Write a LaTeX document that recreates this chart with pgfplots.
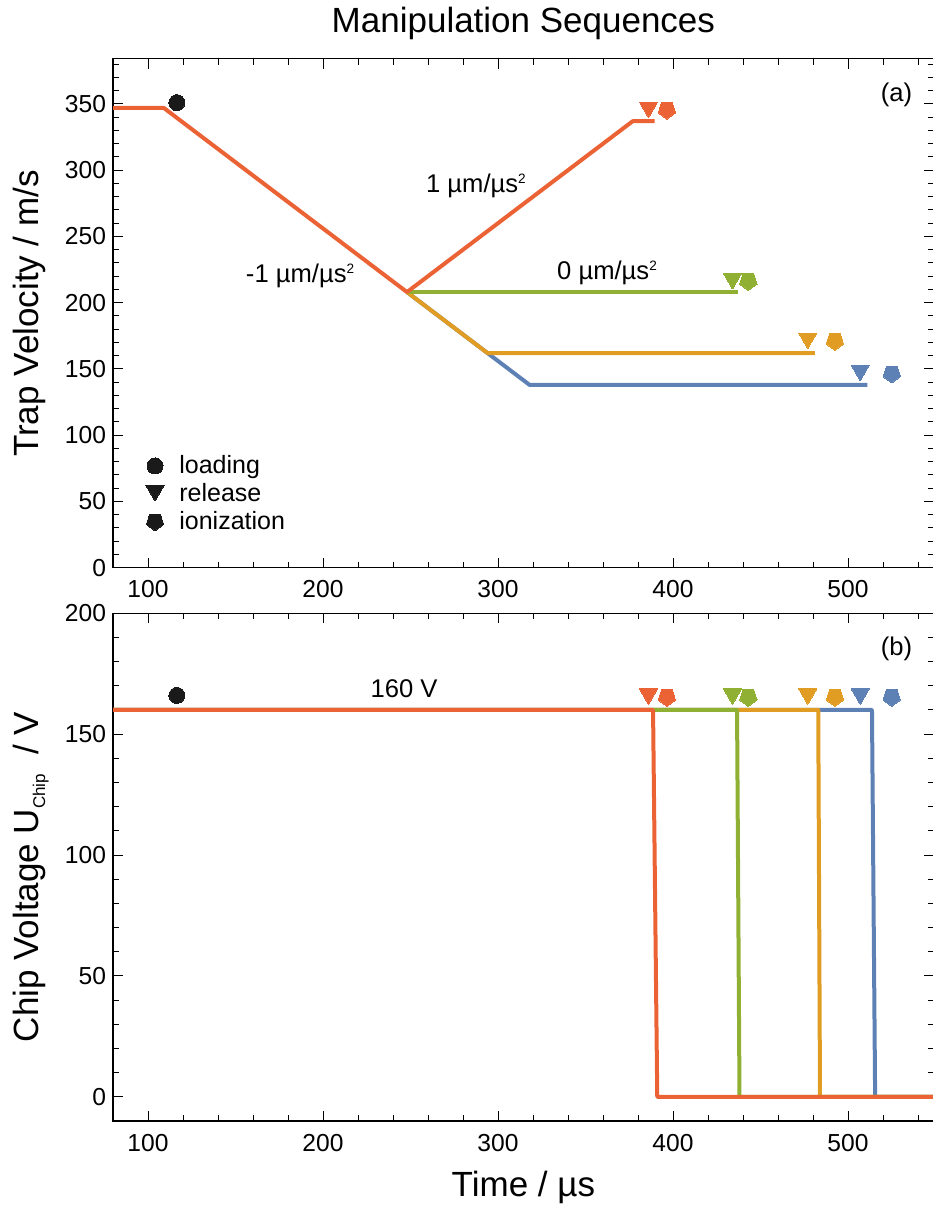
\documentclass[border=0pt]{standalone}
\usepackage{fontspec}
\setmainfont{Liberation Sans}
\usepackage{pgfplots}
\pgfplotsset{compat=1.18}
\definecolor{mblue}{HTML}{5E81B5}
\definecolor{mgold}{HTML}{E19C24}
\definecolor{mgreen}{HTML}{8FB032}
\definecolor{morange}{HTML}{EB6235}
\definecolor{mblack}{HTML}{1A1A1A}
\newcommand{\tfont}{\fontsize{12.3bp}{14bp}\selectfont}
\newcommand{\lfont}{\fontsize{17.5bp}{20bp}\selectfont}
\newcommand{\sq}{\raisebox{4.5bp}{\fontsize{6.8bp}{7bp}\selectfont 2}}
\pgfplotsset{
  myaxis/.style={
    scale only axis, width=410.375bp, xmin=80, xmax=549,
    axis line style={line width=0.6bp, black},
    tick style={line width=0.5bp, black},
    major tick length=5bp, minor tick length=3bp,
    tick align=inside,
    xtick={100,200,...,500}, minor xtick={80,100,...,540},
    xticklabel pos=left, yticklabel pos=left,
    ticklabel style={font=\tfont},
    /pgf/number format/assume math mode=true,
    xticklabel style={yshift=-3bp},
    every axis plot/.append style={line width=2bp, line join=round},
  },
  tri/.style={only marks, color=#1, line width=0pt, mark=triangle*, mark size=5.2bp, mark options={rotate=180, line width=0pt, draw=none, fill=#1}},
  pent/.style={only marks, color=#1, line width=0pt, mark=pentagon*, mark size=4.6bp, mark options={rotate=180, line width=0pt, draw=none, fill=#1}},
  circ/.style={only marks, color=#1, line width=0pt, mark=*, mark size=4bp, mark options={line width=0pt, draw=none, fill=#1}},
}
\begin{document}
\begin{tikzpicture}
\useasboundingbox (0,0) rectangle (466.5bp,602.5bp);
% ---------- panel (a)
\begin{axis}[myaxis, at={(56.5bp,318.65bp)}, anchor=south west, height=254.4bp,
  ymin=0, ymax=384, ytick={0,50,...,350}, minor ytick={0,10,...,380}]
\addplot[mblue] coordinates {(248,208)(294,162)(318,138)(511,138)};
\addplot[mgold] coordinates {(248,208)(294,162)(481,162)};
\addplot[mgreen] coordinates {(248,208)(437,208)};
\addplot[morange] coordinates {(79,347)(109,347)(248,208)(377,337)(389.5,337)};
% markers
\addplot[circ=mblack] coordinates {(116.5,351)};
\addplot[tri=morange] coordinates {(386,347.5)};
\addplot[pent=morange] coordinates {(396.5,345.5)};
\addplot[tri=mgreen] coordinates {(434,218.2)};
\addplot[pent=mgreen] coordinates {(443,216.2)};
\addplot[tri=mgold] coordinates {(477,173.2)};
\addplot[pent=mgold] coordinates {(492.5,171)};
\addplot[tri=mblue] coordinates {(507,149)};
\addplot[pent=mblue] coordinates {(525,146.4)};
% legend markers
\addplot[circ=mblack] coordinates {(104,76.8)};
\addplot[tri=mblack] coordinates {(104,58.2)};
\addplot[pent=mblack] coordinates {(104,34.8)};
\node[font=\fontsize{12.5bp}{14bp}\selectfont, anchor=base west, inner sep=0] at (axis cs:117.7,71.1) {loading};
\node[font=\fontsize{12.5bp}{14bp}\selectfont, anchor=base west, inner sep=0] at (axis cs:117.7,50.0) {release};
\node[font=\fontsize{12.5bp}{14bp}\selectfont, anchor=base west, inner sep=0] at (axis cs:117.7,28.9) {ionization};
% annotations
\node[font=\fontsize{12.8bp}{14bp}\selectfont, anchor=base, inner sep=0] at (axis cs:287.4,282.8) {1 µm/µs\sq};
\node[font=\fontsize{12.8bp}{14bp}\selectfont, anchor=base, inner sep=0] at (axis cs:362.3,217.7) {0 µm/µs\sq};
\node[font=\fontsize{12.8bp}{14bp}\selectfont, anchor=base, inner sep=0] at (axis cs:186.9,214.9) {-1 µm/µs\sq};
\node[font=\fontsize{12.8bp}{14bp}\selectfont, anchor=base, inner sep=0] at (axis cs:527.7,351.8) {(a)};
\end{axis}
% ---------- panel (b)
\begin{axis}[myaxis, at={(56.5bp,42bp)}, anchor=south west, height=253.9bp,
  ymin=-10, ymax=200, ytick={0,50,...,200}, minor ytick={-10,0,...,200}]
\addplot[mblue] coordinates {(79,160)(513.7,160)(515.5,0)(551,0)};
\addplot[mgold] coordinates {(79,160)(483,160)(484,0)(551,0)};
\addplot[mgreen] coordinates {(79,160)(436.6,160)(438,0)(551,0)};
\addplot[morange] coordinates {(79,160)(388.6,160)(391,0)(551,0)};
\addplot[circ=mblack] coordinates {(116.5,166)};
\addplot[tri=morange] coordinates {(386,166.6)};
\addplot[pent=morange] coordinates {(396.5,165.3)};
\addplot[tri=mgreen] coordinates {(434,166.6)};
\addplot[pent=mgreen] coordinates {(443,165.3)};
\addplot[tri=mgold] coordinates {(477,166.6)};
\addplot[pent=mgold] coordinates {(492.5,165.3)};
\addplot[tri=mblue] coordinates {(507,166.6)};
\addplot[pent=mblue] coordinates {(525,165.3)};
\node[font=\fontsize{12.8bp}{14bp}\selectfont, anchor=base, inner sep=0] at (axis cs:246.3,165.2) {160 V};
\node[font=\fontsize{12.8bp}{14bp}\selectfont, anchor=base, inner sep=0] at (axis cs:527.7,182.6) {(b)};
\end{axis}
% ---------- titles and labels
\node[font=\lfont, anchor=base, inner sep=0] at (261.7bp,586bp) {Manipulation Sequences};
\node[font=\lfont, anchor=base, inner sep=0] at (261.7bp,4.5bp) {Time / µs};
\node[font=\lfont, anchor=base, inner sep=0, rotate=90] at (19bp,445.75bp) {Trap Velocity / m/s};
\node[font=\lfont, anchor=base, inner sep=0, rotate=90] at (19bp,164bp) {Chip Voltage U\raisebox{-3.5bp}{\fontsize{8.5bp}{10bp}\selectfont Chip}\hspace{0.55em}/ V};
\end{tikzpicture}
\end{document}
